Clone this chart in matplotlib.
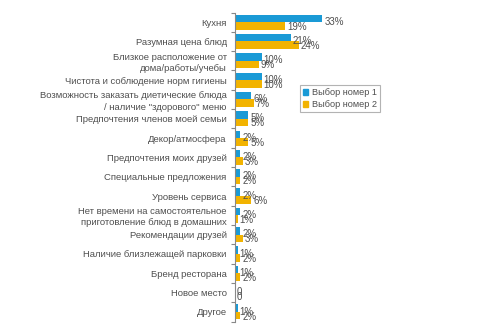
import matplotlib
matplotlib.use('Agg')
import matplotlib.pyplot as plt
import numpy as np
from matplotlib.patches import Patch

plt.rcParams['font.family'] = ['Liberation Sans', 'DejaVu Sans']

categories = [
    'Кухня',
    'Разумная цена блюд',
    'Близкое расположение от\nдома/работы/учебы',
    'Чистота и соблюдение норм гигиены',
    'Возможность заказать диетические блюда\n/ наличие "здорового" меню',
    'Предпочтения членов моей семьи',
    'Декор/атмосфера',
    'Предпочтения моих друзей',
    'Специальные предложения',
    'Уровень сервиса',
    'Нет времени на самостоятельное\nприготовление блюд в домашних',
    'Рекомендации друзей',
    'Наличие близлежащей парковки',
    'Бренд ресторана',
    'Новое место',
    'Другое',
]
choice1 = [33, 21, 10, 10, 6, 5, 2, 2, 2, 2, 2, 2, 1, 1, 0, 1]
choice2 = [19, 24, 9, 10, 7, 5, 5, 3, 2, 6, 1, 3, 2, 2, 0, 2]
series_names = ['Выбор номер 1', 'Выбор номер 2']

blue = '#1a9ad6'
gold = '#f2b300'
grey = '#4f4f4f'

fig = plt.figure(figsize=(5, 3.25), dpi=100)
ax = fig.add_axes([0.47, 0.0105, 0.53, 0.951])

y = np.arange(len(categories))
h = 0.39
ax.barh(y - h / 2, choice1, height=h, color=blue)
ax.barh(y + h / 2, choice2, height=h, color=gold)

def lab(v):
    return '%d%%' % v if v else '0'

# подписи значений справа от столбиков
for i in range(len(categories)):
    ax.text(choice1[i] + 0.8, y[i] - 0.02, lab(choice1[i]), va='center', ha='left',
            fontsize=7, color=grey)
    ax.text(choice2[i] + 0.8, y[i] + 0.24, lab(choice2[i]), va='center', ha='left',
            fontsize=7, color=grey)

ax.set_xlim(0, 100)
ax.set_ylim(len(categories) - 0.5, -0.5)
ax.set_yticks(y)
ax.set_yticklabels(categories, fontsize=6.8, color=grey, linespacing=1.3)
ax.set_yticks(np.arange(len(categories) + 1) - 0.5, minor=True)
ax.tick_params(axis='y', which='major', length=0, pad=6)
ax.tick_params(axis='y', which='minor', length=3, color='#888888', width=0.8)
ax.set_xticks([])
for s in ['top', 'right', 'bottom']:
    ax.spines[s].set_visible(False)
ax.spines['left'].set_color('#888888')
ax.spines['left'].set_linewidth(0.8)

handles = [Patch(color=blue), Patch(color=gold)]
leg = fig.legend(handles, series_names, loc='upper left', bbox_to_anchor=(0.59, 0.752),
                 fontsize=6.6, frameon=True, fancybox=False, handlelength=0.6,
                 handleheight=0.6, handletextpad=0.4, borderpad=0.35,
                 labelspacing=0.3, labelcolor=grey)
leg.get_frame().set_edgecolor('#a0a0a0')
leg.get_frame().set_linewidth(0.8)

fig.savefig('out.png', dpi=100)
